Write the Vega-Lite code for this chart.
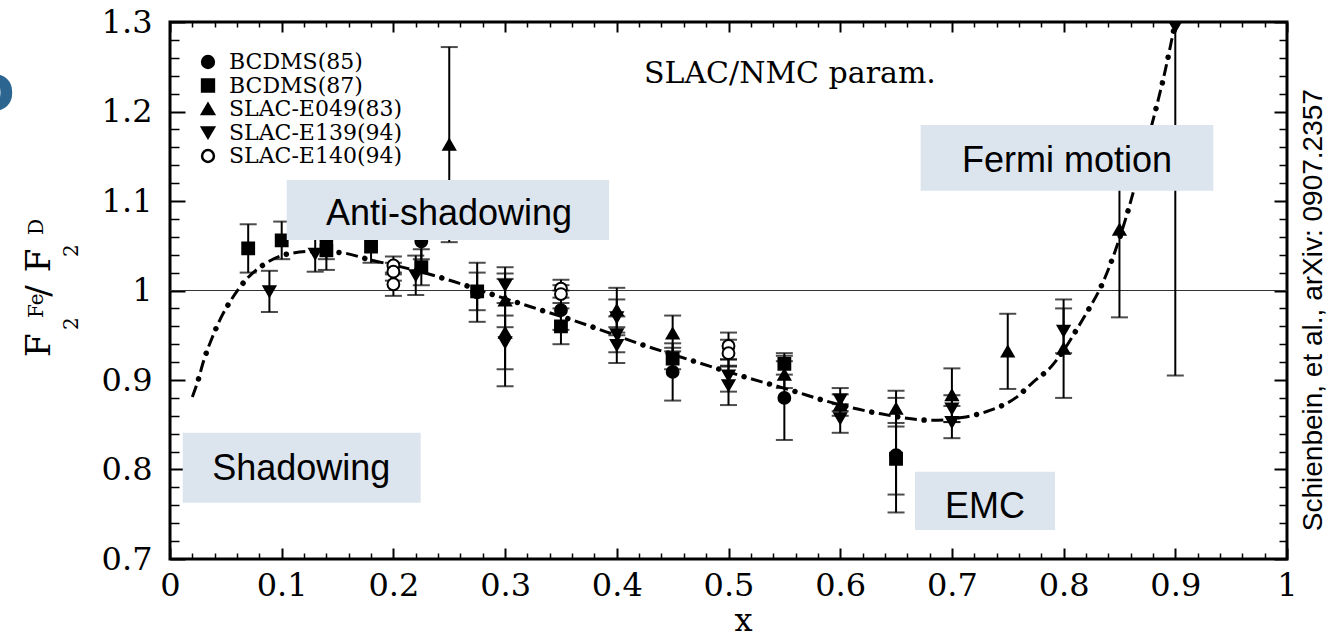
{
  "$schema": "https://vega.github.io/schema/vega-lite/v6.json",
  "width": 1117,
  "height": 537,
  "autosize": {"type": "none"},
  "padding": {"left": 170, "top": 22, "right": 44, "bottom": 80},
  "background": "white",
  "config": {
    "view": {"stroke": "black", "strokeWidth": 3},
    "axis": {"grid": false, "domain": false, "labelColor": "black", "tickColor": "black", "titleColor": "black"},
    "legend": {"symbolStrokeWidth": 2}
  },
  "datasets": {
    "pts": [
      {"s": "BCDMS(87)", "x": 0.07, "y": 1.047, "e": 0.027},
      {"s": "BCDMS(87)", "x": 0.10, "y": 1.056, "e": 0.021},
      {"s": "BCDMS(87)", "x": 0.14, "y": 1.045, "e": 0.022},
      {"s": "BCDMS(87)", "x": 0.18, "y": 1.049, "e": 0.018},
      {"s": "BCDMS(87)", "x": 0.225, "y": 1.026, "e": 0.02},
      {"s": "BCDMS(87)", "x": 0.275, "y": 0.999, "e": 0.021},
      {"s": "BCDMS(87)", "x": 0.35, "y": 0.96, "e": 0.02},
      {"s": "BCDMS(87)", "x": 0.45, "y": 0.924, "e": 0.012},
      {"s": "BCDMS(87)", "x": 0.55, "y": 0.918, "e": 0.012},
      {"s": "BCDMS(87)", "x": 0.65, "y": 0.812, "e": 0.04},
      {"s": "BCDMS(85)", "x": 0.14, "y": 1.055, "e": 0.02},
      {"s": "BCDMS(85)", "x": 0.225, "y": 1.055, "e": 0.02},
      {"s": "BCDMS(85)", "x": 0.275, "y": 0.998, "e": 0.033},
      {"s": "BCDMS(85)", "x": 0.35, "y": 0.978, "e": 0.022},
      {"s": "BCDMS(85)", "x": 0.45, "y": 0.909, "e": 0.032},
      {"s": "BCDMS(85)", "x": 0.55, "y": 0.88, "e": 0.047},
      {"s": "BCDMS(85)", "x": 0.65, "y": 0.816, "e": 0.064},
      {"s": "SLAC-E049(83)", "x": 0.25, "y": 1.163, "e": 0.109},
      {"s": "SLAC-E049(83)", "x": 0.30, "y": 0.989, "e": 0.03},
      {"s": "SLAC-E049(83)", "x": 0.30, "y": 0.953, "e": 0.06},
      {"s": "SLAC-E049(83)", "x": 0.40, "y": 0.978, "e": 0.025},
      {"s": "SLAC-E049(83)", "x": 0.45, "y": 0.952, "e": 0.02},
      {"s": "SLAC-E049(83)", "x": 0.55, "y": 0.906, "e": 0.015},
      {"s": "SLAC-E049(83)", "x": 0.60, "y": 0.872, "e": 0.012},
      {"s": "SLAC-E049(83)", "x": 0.65, "y": 0.868, "e": 0.02},
      {"s": "SLAC-E049(83)", "x": 0.70, "y": 0.883, "e": 0.03},
      {"s": "SLAC-E049(83)", "x": 0.75, "y": 0.932, "e": 0.042},
      {"s": "SLAC-E049(83)", "x": 0.80, "y": 0.935, "e": 0.055},
      {"s": "SLAC-E049(83)", "x": 0.85, "y": 1.068, "e": 0.098},
      {"s": "SLAC-E139(94)", "x": 0.089, "y": 0.999, "e": 0.023},
      {"s": "SLAC-E139(94)", "x": 0.13, "y": 1.041, "e": 0.02},
      {"s": "SLAC-E139(94)", "x": 0.22, "y": 1.017, "e": 0.022},
      {"s": "SLAC-E139(94)", "x": 0.30, "y": 1.006, "e": 0.02},
      {"s": "SLAC-E139(94)", "x": 0.30, "y": 0.942, "e": 0.03},
      {"s": "SLAC-E139(94)", "x": 0.40, "y": 0.970, "e": 0.02},
      {"s": "SLAC-E139(94)", "x": 0.40, "y": 0.951, "e": 0.02},
      {"s": "SLAC-E139(94)", "x": 0.40, "y": 0.939, "e": 0.02},
      {"s": "SLAC-E139(94)", "x": 0.50, "y": 0.905, "e": 0.018},
      {"s": "SLAC-E139(94)", "x": 0.50, "y": 0.894, "e": 0.022},
      {"s": "SLAC-E139(94)", "x": 0.60, "y": 0.878, "e": 0.013},
      {"s": "SLAC-E139(94)", "x": 0.60, "y": 0.857, "e": 0.016},
      {"s": "SLAC-E139(94)", "x": 0.70, "y": 0.868, "e": 0.015},
      {"s": "SLAC-E139(94)", "x": 0.70, "y": 0.853, "e": 0.018},
      {"s": "SLAC-E139(94)", "x": 0.80, "y": 0.955, "e": 0.025},
      {"s": "SLAC-E139(94)", "x": 0.90, "y": 1.295, "e": 0.39},
      {"s": "SLAC-E140(94)", "x": 0.20, "y": 1.028, "e": 0.01},
      {"s": "SLAC-E140(94)", "x": 0.20, "y": 1.021, "e": 0.01},
      {"s": "SLAC-E140(94)", "x": 0.20, "y": 1.007, "e": 0.013},
      {"s": "SLAC-E140(94)", "x": 0.35, "y": 1.002, "e": 0.01},
      {"s": "SLAC-E140(94)", "x": 0.35, "y": 0.996, "e": 0.01},
      {"s": "SLAC-E140(94)", "x": 0.50, "y": 0.938, "e": 0.015},
      {"s": "SLAC-E140(94)", "x": 0.50, "y": 0.930, "e": 0.015}
    ],
    "curve": [
      {"x": 0.02, "y": 0.881}, {"x": 0.025, "y": 0.899}, {"x": 0.03, "y": 0.921}, {"x": 0.037, "y": 0.945},
      {"x": 0.045, "y": 0.968}, {"x": 0.055, "y": 0.99}, {"x": 0.068, "y": 1.012}, {"x": 0.084, "y": 1.029},
      {"x": 0.106, "y": 1.041}, {"x": 0.13, "y": 1.044}, {"x": 0.155, "y": 1.042}, {"x": 0.18, "y": 1.034},
      {"x": 0.205, "y": 1.027}, {"x": 0.23, "y": 1.019}, {"x": 0.254, "y": 1.01}, {"x": 0.29, "y": 0.995},
      {"x": 0.325, "y": 0.981}, {"x": 0.372, "y": 0.962}, {"x": 0.419, "y": 0.941}, {"x": 0.464, "y": 0.923},
      {"x": 0.513, "y": 0.904}, {"x": 0.56, "y": 0.887}, {"x": 0.583, "y": 0.878}, {"x": 0.633, "y": 0.863},
      {"x": 0.683, "y": 0.855}, {"x": 0.709, "y": 0.858}, {"x": 0.734, "y": 0.866}, {"x": 0.757, "y": 0.88},
      {"x": 0.773, "y": 0.898}, {"x": 0.789, "y": 0.915}, {"x": 0.80, "y": 0.933}, {"x": 0.812, "y": 0.957},
      {"x": 0.822, "y": 0.978}, {"x": 0.833, "y": 1.003}, {"x": 0.85, "y": 1.058}, {"x": 0.868, "y": 1.135},
      {"x": 0.88, "y": 1.19}, {"x": 0.891, "y": 1.246}, {"x": 0.9, "y": 1.3}
    ],
    "boxes": [
      {"x1": 0.1045, "x2": 0.393, "y1": 1.0564, "y2": 1.1235},
      {"x1": 0.672, "x2": 0.934, "y1": 1.1115, "y2": 1.185},
      {"x1": 0.0114, "x2": 0.2244, "y1": 0.7629, "y2": 0.8411},
      {"x1": 0.667, "x2": 0.7923, "y1": 0.7324, "y2": 0.7975}
    ],
    "labels": [
      {"t": "Anti-shadowing", "x": 0.2498, "y": 1.0732},
      {"t": "Fermi motion", "x": 0.803, "y": 1.1327},
      {"t": "Shadowing", "x": 0.1175, "y": 0.7883},
      {"t": "EMC", "x": 0.7296, "y": 0.7455}
    ],
    "param": [{"t": "SLAC/NMC param.", "x": 0.555, "y": 1.2318}],
    "cite": [{"t": "Schienbein, et al., arXiv: 0907.2357", "x": 1.0311, "y": 0.978}],
    "blue": [{"t": "o", "x": -0.1388, "y": 1.2017}],
    "ybig": [
      {"t": "F", "x": -0.1074, "y": 0.9257},
      {"t": "/", "x": -0.1074, "y": 0.993},
      {"t": "F", "x": -0.1074, "y": 1.0205}
    ],
    "ysmall": [
      {"t": "2", "x": -0.0824, "y": 0.9559},
      {"t": "Fe", "x": -0.1137, "y": 0.9693},
      {"t": "2", "x": -0.0824, "y": 1.0374},
      {"t": "D", "x": -0.1137, "y": 1.062}
    ],
    "one": [{"x": 0, "y": 1}, {"x": 1, "y": 1}]
  },
  "resolve": {"axis": {"x": "independent", "y": "independent"}},
  "layer": [
    {
      "data": {"name": "one"},
      "mark": {"type": "line", "color": "#333333", "strokeWidth": 1},
      "encoding": {
        "x": {"field": "x", "type": "quantitative", "scale": {"domain": [0, 1], "nice": false, "zero": false},
          "axis": {"orient": "bottom", "values": [0, 0.1, 0.2, 0.3, 0.4, 0.5, 0.6, 0.7, 0.8, 0.9, 1], "format": ".1~f", "ticks": false, "tickSize": 0, "labelPadding": 11, "labelFont": "DejaVu Serif", "labelFontSize": 32, "labelFlush": false, "labelOverlap": false,
            "title": "x", "titleFont": "DejaVu Serif", "titleFontSize": 32, "titleFontWeight": "normal", "titleX": 573, "titleY": 71, "titleBaseline": "alphabetic", "titleAlign": "center"}},
        "y": {"field": "y", "type": "quantitative", "scale": {"domain": [0.7, 1.3], "nice": false, "zero": false},
          "axis": {"orient": "left", "values": [0.7, 0.8, 0.9, 1, 1.1, 1.2, 1.3], "format": ".1~f", "ticks": false, "tickSize": 0, "labelPadding": 18, "labelFont": "DejaVu Serif", "labelFontSize": 32, "labelFlush": false, "labelOverlap": false, "title": null}}
      }
    },
    {
      "data": {"name": "curve"},
      "mark": {"type": "line", "color": "black", "strokeWidth": 3, "strokeDash": [12, 14.5], "interpolate": "monotone"},
      "encoding": {
        "x": {"field": "x", "type": "quantitative", "scale": {"domain": [0, 1], "nice": false, "zero": false},
          "axis": {"orient": "bottom", "values": [0, 0.1, 0.2, 0.3, 0.4, 0.5, 0.6, 0.7, 0.8, 0.9, 1], "labels": false, "tickSize": -11, "tickWidth": 2, "title": null}},
        "y": {"field": "y", "type": "quantitative", "scale": {"domain": [0.7, 1.3], "nice": false, "zero": false},
          "axis": {"orient": "left", "values": [0.7, 0.8, 0.9, 1, 1.1, 1.2, 1.3], "labels": false, "tickSize": -15, "tickWidth": 2, "title": null}}
      }
    },
    {
      "data": {"name": "curve"},
      "mark": {"type": "line", "color": "black", "strokeWidth": 5.5, "strokeCap": "round", "strokeDash": [0.01, 26.49], "strokeDashOffset": 7.25, "interpolate": "monotone"},
      "encoding": {
        "x": {"field": "x", "type": "quantitative", "scale": {"domain": [0, 1], "nice": false, "zero": false},
          "axis": {"orient": "bottom", "values": [0.02, 0.04, 0.06, 0.08, 0.12, 0.14, 0.16, 0.18, 0.22, 0.24, 0.26, 0.28, 0.32, 0.34, 0.36, 0.38, 0.42, 0.44, 0.46, 0.48, 0.52, 0.54, 0.56, 0.58, 0.62, 0.64, 0.66, 0.68, 0.72, 0.74, 0.76, 0.78, 0.82, 0.84, 0.86, 0.88, 0.92, 0.94, 0.96, 0.98], "labels": false, "tickSize": -6, "tickWidth": 1.5, "title": null}},
        "y": {"field": "y", "type": "quantitative", "scale": {"domain": [0.7, 1.3], "nice": false, "zero": false},
          "axis": {"orient": "left", "values": [0.72, 0.74, 0.76, 0.78, 0.82, 0.84, 0.86, 0.88, 0.92, 0.94, 0.96, 0.98, 1.02, 1.04, 1.06, 1.08, 1.12, 1.14, 1.16, 1.18, 1.22, 1.24, 1.26, 1.28], "labels": false, "tickSize": -9, "tickWidth": 1.5, "title": null}}
      }
    },
    {
      "data": {"name": "pts"},
      "mark": {"type": "errorbar", "color": "black", "thickness": 2, "ticks": {"size": 17, "thickness": 2, "color": "black"}, "clip": true},
      "encoding": {
        "x": {"field": "x", "type": "quantitative", "scale": {"domain": [0, 1], "nice": false, "zero": false}, "axis": null},
        "y": {"field": "y", "type": "quantitative", "scale": {"domain": [0.7, 1.3], "nice": false, "zero": false}, "axis": null},
        "yError": {"field": "e"}
      }
    },
    {
      "data": {"name": "pts"},
      "mark": {"type": "point", "strokeWidth": 2, "opacity": 1, "size": 140, "clip": true},
      "encoding": {
        "x": {"field": "x", "type": "quantitative", "scale": {"domain": [0, 1], "nice": false, "zero": false},
          "axis": {"orient": "top", "values": [0, 0.1, 0.2, 0.3, 0.4, 0.5, 0.6, 0.7, 0.8, 0.9, 1], "labels": false, "tickSize": -10, "tickWidth": 2, "title": null}},
        "y": {"field": "y", "type": "quantitative", "scale": {"domain": [0.7, 1.3], "nice": false, "zero": false},
          "axis": {"orient": "right", "values": [0.7, 0.8, 0.9, 1, 1.1, 1.2, 1.3], "labels": false, "tickSize": -13, "tickWidth": 2, "title": null}},
        "shape": {"field": "s", "type": "nominal",
          "scale": {"domain": ["BCDMS(85)", "BCDMS(87)", "SLAC-E049(83)", "SLAC-E139(94)", "SLAC-E140(94)"], "range": ["circle", "square", "triangle-up", "triangle-down", "circle"]},
          "legend": {"orient": "none", "legendX": 27, "legendY": 29, "title": null, "padding": 0, "labelFont": "DejaVu Serif", "labelFontSize": 22, "labelColor": "black", "labelLimit": 400, "symbolSize": 140, "symbolStrokeWidth": 2.5, "rowPadding": 1.5, "labelOffset": 10}},
        "fill": {"field": "s", "type": "nominal",
          "scale": {"domain": ["BCDMS(85)", "BCDMS(87)", "SLAC-E049(83)", "SLAC-E139(94)", "SLAC-E140(94)"], "range": ["black", "black", "black", "black", "white"]},
          "legend": {"orient": "none", "legendX": 27, "legendY": 29, "title": null, "padding": 0, "labelFont": "DejaVu Serif", "labelFontSize": 22, "labelColor": "black", "labelLimit": 400, "symbolSize": 140, "symbolStrokeWidth": 2.5, "rowPadding": 1.5, "labelOffset": 10}},
        "stroke": {"field": "s", "type": "nominal",
          "scale": {"domain": ["BCDMS(85)", "BCDMS(87)", "SLAC-E049(83)", "SLAC-E139(94)", "SLAC-E140(94)"], "range": ["black", "black", "black", "black", "black"]},
          "legend": {"orient": "none", "legendX": 27, "legendY": 29, "title": null, "padding": 0, "labelFont": "DejaVu Serif", "labelFontSize": 22, "labelColor": "black", "labelLimit": 400, "symbolSize": 140, "symbolStrokeWidth": 2.5, "rowPadding": 1.5, "labelOffset": 10}}
      }
    },
    {
      "data": {"name": "boxes"},
      "mark": {"type": "rect", "fill": "#dce4ee"},
      "encoding": {
        "x": {"field": "x1", "type": "quantitative", "scale": {"domain": [0, 1], "nice": false, "zero": false},
          "axis": {"orient": "top", "values": [0.02, 0.04, 0.06, 0.08, 0.12, 0.14, 0.16, 0.18, 0.22, 0.24, 0.26, 0.28, 0.32, 0.34, 0.36, 0.38, 0.42, 0.44, 0.46, 0.48, 0.52, 0.54, 0.56, 0.58, 0.62, 0.64, 0.66, 0.68, 0.72, 0.74, 0.76, 0.78, 0.82, 0.84, 0.86, 0.88, 0.92, 0.94, 0.96, 0.98], "labels": false, "tickSize": -5, "tickWidth": 1.5, "title": null}},
        "x2": {"field": "x2"},
        "y": {"field": "y1", "type": "quantitative", "scale": {"domain": [0.7, 1.3], "nice": false, "zero": false},
          "axis": {"orient": "right", "values": [0.72, 0.74, 0.76, 0.78, 0.82, 0.84, 0.86, 0.88, 0.92, 0.94, 0.96, 0.98, 1.02, 1.04, 1.06, 1.08, 1.12, 1.14, 1.16, 1.18, 1.22, 1.24, 1.26, 1.28], "labels": false, "tickSize": -8, "tickWidth": 1.5, "title": null}},
        "y2": {"field": "y2"}
      }
    },
    {
      "data": {"name": "labels"},
      "mark": {"type": "text", "font": "Liberation Sans", "fontSize": 36, "color": "black", "align": "center", "baseline": "alphabetic"},
      "encoding": {
        "x": {"field": "x", "type": "quantitative", "scale": {"domain": [0, 1], "nice": false, "zero": false}, "axis": null},
        "y": {"field": "y", "type": "quantitative", "scale": {"domain": [0.7, 1.3], "nice": false, "zero": false}, "axis": null},
        "text": {"field": "t"}
      }
    },
    {
      "data": {"name": "param"},
      "mark": {"type": "text", "font": "DejaVu Serif", "fontSize": 30, "color": "black", "align": "center", "baseline": "alphabetic"},
      "encoding": {
        "x": {"field": "x", "type": "quantitative", "scale": {"domain": [0, 1], "nice": false, "zero": false}, "axis": null},
        "y": {"field": "y", "type": "quantitative", "scale": {"domain": [0.7, 1.3], "nice": false, "zero": false}, "axis": null},
        "text": {"field": "t"}
      }
    },
    {
      "data": {"name": "cite"},
      "mark": {"type": "text", "font": "Liberation Sans", "fontSize": 28, "color": "black", "align": "center", "baseline": "alphabetic", "angle": 270},
      "encoding": {
        "x": {"field": "x", "type": "quantitative", "scale": {"domain": [0, 1], "nice": false, "zero": false}, "axis": null},
        "y": {"field": "y", "type": "quantitative", "scale": {"domain": [0.7, 1.3], "nice": false, "zero": false}, "axis": null},
        "text": {"field": "t"}
      }
    },
    {
      "data": {"name": "blue"},
      "mark": {"type": "text", "font": "DejaVu Sans", "fontWeight": "bold", "fontSize": 64, "color": "#2b6590", "align": "right", "baseline": "alphabetic"},
      "encoding": {
        "x": {"field": "x", "type": "quantitative", "scale": {"domain": [0, 1], "nice": false, "zero": false}, "axis": null},
        "y": {"field": "y", "type": "quantitative", "scale": {"domain": [0.7, 1.3], "nice": false, "zero": false}, "axis": null},
        "text": {"field": "t"}
      }
    },
    {
      "data": {"name": "ybig"},
      "mark": {"type": "text", "font": "DejaVu Serif", "fontSize": 34, "color": "black", "align": "left", "baseline": "alphabetic", "angle": 270},
      "encoding": {
        "x": {"field": "x", "type": "quantitative", "scale": {"domain": [0, 1], "nice": false, "zero": false}, "axis": null},
        "y": {"field": "y", "type": "quantitative", "scale": {"domain": [0.7, 1.3], "nice": false, "zero": false}, "axis": null},
        "text": {"field": "t"}
      }
    },
    {
      "data": {"name": "ysmall"},
      "mark": {"type": "text", "font": "DejaVu Serif", "fontSize": 20, "color": "black", "align": "left", "baseline": "alphabetic", "angle": 270},
      "encoding": {
        "x": {"field": "x", "type": "quantitative", "scale": {"domain": [0, 1], "nice": false, "zero": false}, "axis": null},
        "y": {"field": "y", "type": "quantitative", "scale": {"domain": [0.7, 1.3], "nice": false, "zero": false}, "axis": null},
        "text": {"field": "t"}
      }
    }
  ]
}
